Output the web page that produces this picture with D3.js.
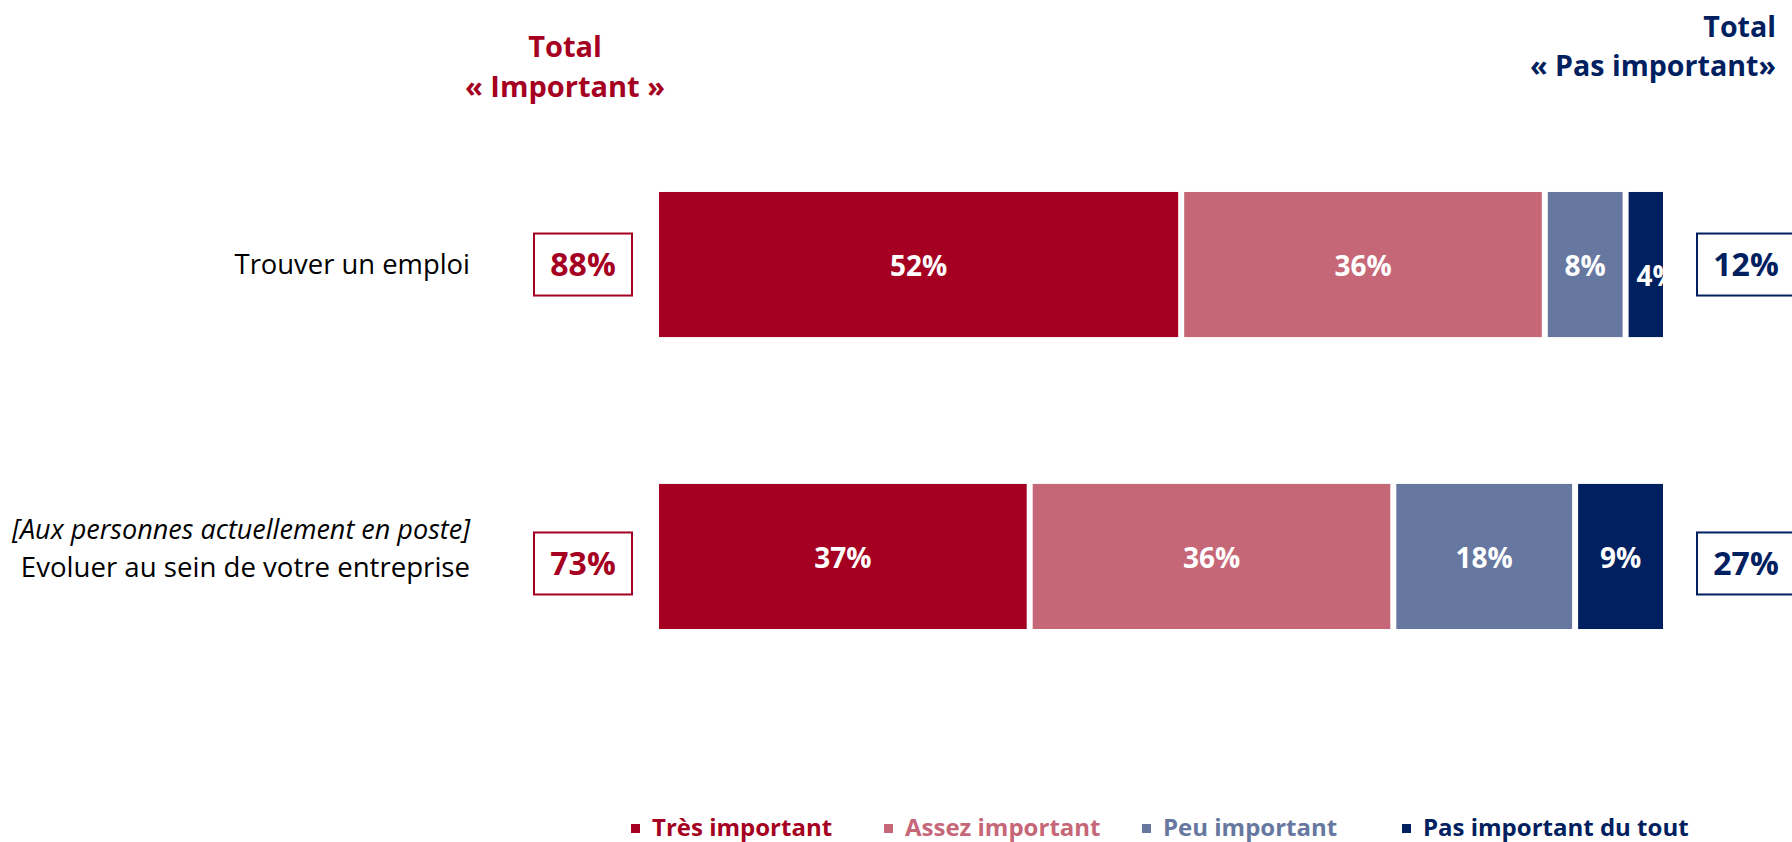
<!DOCTYPE html>
<html>
<head>
<meta charset="utf-8">
<script src="https://cdn.jsdelivr.net/npm/d3@7"></script>
<style>
  html, body { margin: 0; padding: 0; background: #fff; overflow: hidden; }
  svg { display: block; font-family: "Open Sans", "Noto Sans", sans-serif; }
</style>
</head>
<body>
<svg id="chart" width="1792" height="842"></svg>
<script>
// categories (rows) and the note above the second one
const categories = ["Trouver un emploi", "Evoluer au sein de votre entreprise"];
const notes = ["", "[Aux personnes actuellement en poste]"];

// series
const seriesNames = ["Très important", "Assez important", "Peu important", "Pas important du tout"];
const tresImportant = [52, 37];
const assezImportant = [36, 36];
const peuImportant = [8, 18];
const pasImportantDuTout = [4, 9];

// totals in the side boxes
const totalImportant = [88, 73];
const totalPasImportant = [12, 27];

const colors = ["#A50021", "#C66777", "#6778A0", "#002060"];
const red = "#A50021", navy = "#002060";

const svg = d3.select("#chart");

// rows as objects for d3.stack
const rows = categories.map((c, i) => ({
  cat: c,
  [seriesNames[0]]: tresImportant[i],
  [seriesNames[1]]: assezImportant[i],
  [seriesNames[2]]: peuImportant[i],
  [seriesNames[3]]: pasImportantDuTout[i]
}));
const stacked = d3.stack().keys(seriesNames)(rows);

const x = d3.scaleLinear().domain([0, 100]).range([656, 1666]);
const y = d3.scaleBand().domain(categories).range([46, 775]).paddingInner(0.503).paddingOuter(0.5);
const color = d3.scaleOrdinal().domain(seriesNames).range(colors);
const gap = 3; // white space on each side of a segment

// bars
const layer = svg.append("g").selectAll("g").data(stacked).join("g")
  .attr("fill", d => color(d.key));

layer.selectAll("rect").data(d => d.map(s => ({ key: d.key, s }))).join("rect")
  .attr("x", d => x(d.s[0]) + gap)
  .attr("y", d => y(d.s.data.cat))
  .attr("width", d => x(d.s[1]) - x(d.s[0]) - 2 * gap)
  .attr("height", y.bandwidth());

// clip paths so labels of narrow segments stay inside
const defs = svg.append("defs");
stacked.forEach((ser, si) => ser.forEach((s, ri) => {
  defs.append("clipPath").attr("id", `clip-${si}-${ri}`)
    .append("rect")
    .attr("x", x(s[0]) + gap).attr("y", y(s.data.cat))
    .attr("width", x(s[1]) - x(s[0]) - 2 * gap).attr("height", y.bandwidth());
}));

// labels inside bars
stacked.forEach((ser, si) => ser.forEach((s, ri) => {
  const v = s[1] - s[0];
  const x0 = x(s[0]) + gap, x1 = x(s[1]) - gap;
  const cy = y(s.data.cat) + y.bandwidth() / 2;
  const narrow = (x1 - x0) < 45;
  svg.append("text")
    .attr("clip-path", `url(#clip-${si}-${ri})`)
    .attr("x", narrow ? x0 + 8 : (x0 + x1) / 2)
    .attr("y", narrow ? cy + 12 : cy + 2)
    .attr("dy", "0.35em")
    .attr("text-anchor", narrow ? "start" : "middle")
    .attr("fill", "#fff")
    .attr("font-weight", 700)
    .attr("font-size", 28)
    .text(v + "%");
}));

// category labels on the left
categories.forEach((c, i) => {
  const cy = y(c) + y.bandwidth() / 2;
  const t = svg.append("text")
    .attr("text-anchor", "end")
    .attr("fill", "#000");
  if (notes[i]) {
    t.append("tspan")
      .attr("x", 470).attr("y", cy - 17)
      .attr("font-size", 27).attr("font-style", "italic")
      .text(notes[i]);
    t.append("tspan")
      .attr("x", 470).attr("y", cy + 21)
      .attr("font-size", 27.6)
      .text(c);
  } else {
    t.append("tspan")
      .attr("x", 470).attr("y", cy + 9)
      .attr("font-size", 27.4)
      .text(c);
  }
});

// total boxes
function totalBox(cx, cy, val, col) {
  svg.append("rect")
    .attr("x", cx - 49).attr("y", cy - 31)
    .attr("width", 98).attr("height", 62)
    .attr("fill", "#fff").attr("stroke", col).attr("stroke-width", 2);
  svg.append("text")
    .attr("x", cx).attr("y", cy).attr("dy", "0.36em")
    .attr("text-anchor", "middle")
    .attr("fill", col).attr("font-weight", 700).attr("font-size", 32)
    .text(val + "%");
}
categories.forEach((c, i) => {
  const cy = y(c) + y.bandwidth() / 2 + (i ? 7 : 0);
  totalBox(583, cy, totalImportant[i], red);
  totalBox(1746, cy, totalPasImportant[i], navy);
});

// column headers
const hl = svg.append("text").attr("text-anchor", "middle")
  .attr("fill", red).attr("font-weight", 700).attr("font-size", 29);
hl.append("tspan").attr("x", 565).attr("y", 57).text("Total");
hl.append("tspan").attr("x", 565).attr("y", 97).text("« Important »");

const hr = svg.append("text").attr("text-anchor", "end")
  .attr("fill", navy).attr("font-weight", 700).attr("font-size", 28.6);
hr.append("tspan").attr("x", 1776).attr("y", 37).text("Total");
hr.append("tspan").attr("x", 1776).attr("y", 76).text("« Pas important»");

// legend (marker positions as in the original layout)
const legendX = [631, 884, 1142, 1402];
const legend = svg.append("g");
seriesNames.forEach((name, i) => {
  const g = legend.append("g");
  g.append("rect").attr("x", legendX[i]).attr("y", 824).attr("width", 9).attr("height", 9)
    .attr("fill", color(name));
  g.append("text").attr("x", legendX[i] + 21).attr("y", 836)
    .attr("fill", color(name)).attr("font-weight", 700).attr("font-size", 24)
    .text(name);
});
</script>
</body>
</html>
